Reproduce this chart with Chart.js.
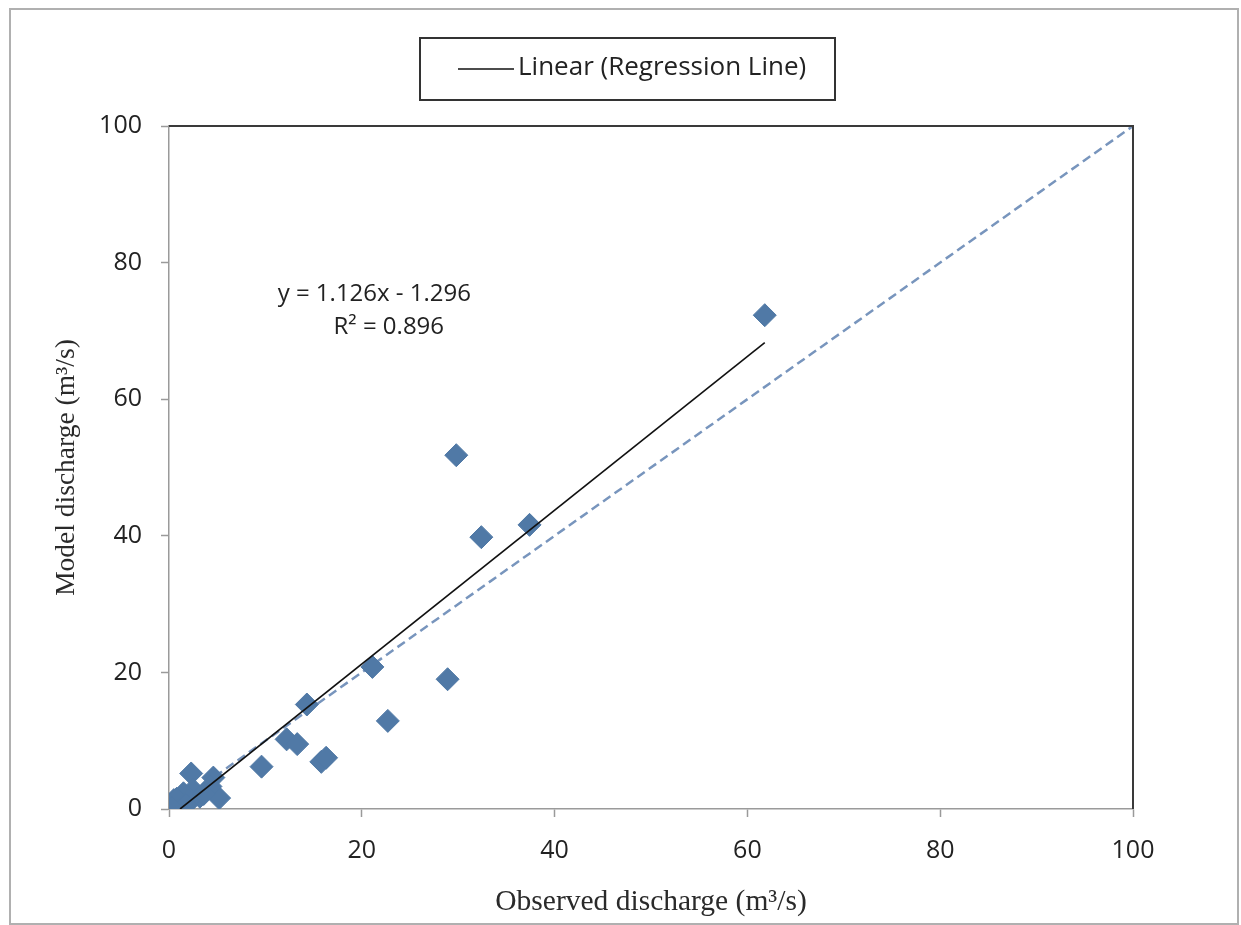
<!DOCTYPE html>
<html>
<head>
<meta charset="utf-8">
<script src="https://cdn.jsdelivr.net/npm/chart.js@4/dist/chart.umd.min.js"></script>
<style>
  html, body { margin: 0; padding: 0; background: #fff; }
  #wrap { width: 1241px; height: 925px; position: relative; }
</style>
</head>
<body>
<div id="wrap"><canvas id="c" width="1241" height="925"></canvas></div>
<script>
// Observed vs. model discharge (m3/s)
const observed = [61.8, 29.8, 32.4, 37.4, 21.1, 28.9, 22.7, 14.3, 12.2, 13.3, 15.8, 16.3, 9.6,
                  2.3, 4.6, 5.2, 4.3, 2.5, 1.5, 0.5, 0.1, 3.2, 1.1, 0.8, 2.0, 3.6, 1.8, 0.3];
const modelled = [72.3, 51.8, 39.8, 41.6, 20.8, 19.0, 12.9, 15.3, 10.2, 9.5, 6.9, 7.5, 6.2,
                  5.2, 4.6, 1.6, 3.3, 2.8, 2.3, 1.3, 0.6, 1.8, 0.9, 1.5, 1.2, 2.2, 0.6, 0.2];
// Regression line endpoints (y = 1.126x - 1.296)
const regX = [1.15, 61.8];
const regY = [0, 68.3];
// 1:1 line
const oneX = [0, 100];
const oneY = [0, 100];
// Axis ticks
const xTicks = [0, 20, 40, 60, 80, 100];
const yTicks = [0, 20, 40, 60, 80, 100];
const legendLabel = 'Linear (Regression Line)';
const eqLines = ['y = 1.126x - 1.296', 'R\u00B2 = 0.896'];
const xTitle = 'Observed discharge (m\u00B3/s)';
const yTitle = 'Model discharge (m\u00B3/s)';

const tickFont = { family: "'Open Sans', sans-serif", size: 25 };
const xTitleFont = { family: "'Liberation Serif', 'Times New Roman', serif", size: 29.5 };
const yTitleFont = { family: "'Liberation Serif', 'Times New Roman', serif", size: 27.5 };

const decor = {
  id: 'decor',
  beforeDraw(chart) {
    const ctx = chart.ctx;
    ctx.save();
    ctx.fillStyle = '#fff';
    ctx.fillRect(0, 0, chart.width, chart.height);
    ctx.strokeStyle = '#b0b0b0';
    ctx.lineWidth = 2;
    ctx.strokeRect(10, 9, 1228, 915);
    ctx.restore();
  },
  afterDraw(chart) {
    const ctx = chart.ctx;
    const a = chart.chartArea;
    const xs = chart.scales.x, ys = chart.scales.y;
    ctx.save();
    // top and right frame
    ctx.strokeStyle = '#3a3a3a';
    ctx.lineWidth = 2;
    ctx.beginPath();
    ctx.moveTo(a.left, a.top);
    ctx.lineTo(a.right, a.top);
    ctx.lineTo(a.right, a.bottom);
    ctx.stroke();
    // legend box
    ctx.strokeStyle = '#333';
    ctx.lineWidth = 2;
    ctx.strokeRect(420, 38, 415, 62);
    ctx.strokeStyle = '#111';
    ctx.lineWidth = 1.6;
    ctx.beginPath();
    ctx.moveTo(458, 69);
    ctx.lineTo(514, 69);
    ctx.stroke();
    ctx.fillStyle = '#222';
    ctx.font = "26px 'Open Sans', sans-serif";
    ctx.textAlign = 'left';
    ctx.textBaseline = 'middle';
    ctx.fillText(legendLabel, 518, 68);
    // equation text
    ctx.font = "24px 'Open Sans', sans-serif";
    ctx.textAlign = 'center';
    ctx.fillText(eqLines[0], xs.getPixelForValue(21.3), ys.getPixelForValue(75.4));
    ctx.fillText(eqLines[1], xs.getPixelForValue(22.8), ys.getPixelForValue(70.6));
    ctx.restore();
  }
};

new Chart(document.getElementById('c'), {
  type: 'scatter',
  data: {
    datasets: [
      {
        label: 'Observed vs model',
        data: observed.map((v, i) => ({ x: v, y: modelled[i] })),
        pointStyle: 'rectRot',
        pointRadius: 11.5,
        backgroundColor: '#5079a6',
        borderColor: '#5079a6',
        borderWidth: 1,
        order: 1
      },
      {
        label: legendLabel,
        type: 'line',
        data: regX.map((v, i) => ({ x: v, y: regY[i] })),
        borderColor: '#111',
        borderWidth: 1.6,
        pointRadius: 0,
        fill: false,
        order: 0
      },
      {
        label: '1:1',
        type: 'line',
        data: oneX.map((v, i) => ({ x: v, y: oneY[i] })),
        borderColor: '#7895bd',
        borderWidth: 2.5,
        borderDash: [9, 5],
        pointRadius: 0,
        fill: false,
        order: 2
      }
    ]
  },
  options: {
    responsive: false,
    animation: false,
    layout: { padding: { top: 126, right: 108, bottom: 0, left: 0 } },
    plugins: { legend: { display: false }, tooltip: { enabled: false } },
    scales: {
      x: {
        type: 'linear', min: 0, max: 100,
        afterFit(s) { s.height = 116; },
        afterBuildTicks(s) { s.ticks = xTicks.map(v => ({ value: v })); },
        grid: { drawOnChartArea: false, drawTicks: true, tickLength: 8, tickColor: '#9a9a9a', tickWidth: 1.5 },
        border: { color: '#9a9a9a', width: 1.5 },
        ticks: { font: tickFont, color: '#222', padding: 19, maxRotation: 0 },
        title: { display: true, text: xTitle, font: xTitleFont, color: '#2a2a2a', padding: { top: 0, bottom: 5 } }
      },
      y: {
        type: 'linear', min: 0, max: 100,
        afterFit(s) { s.width = 169; },
        afterBuildTicks(s) { s.ticks = yTicks.map(v => ({ value: v })); },
        grid: { drawOnChartArea: false, drawTicks: true, tickLength: 8, tickColor: '#9a9a9a', tickWidth: 1.5 },
        border: { color: '#9a9a9a', width: 1.5 },
        ticks: { font: tickFont, color: '#222', padding: 19 },
        title: { display: true, text: yTitle, font: yTitleFont, color: '#2a2a2a', padding: { top: 50, bottom: 0 } }
      }
    }
  },
  plugins: [decor]
});
</script>
</body>
</html>
